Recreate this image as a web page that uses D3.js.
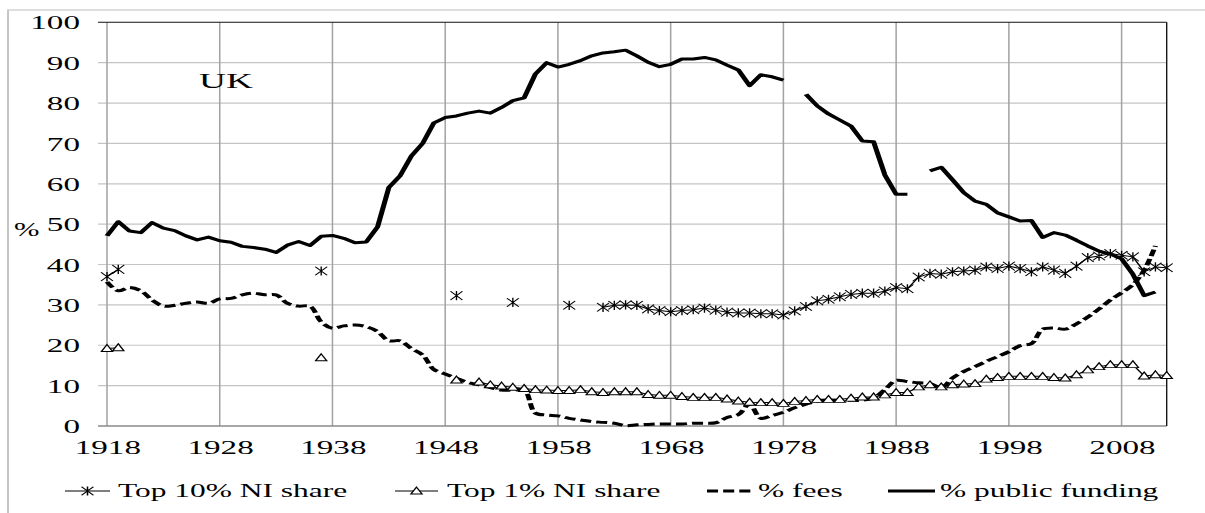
<!DOCTYPE html>
<html>
<head>
<meta charset="utf-8">
<script src="https://cdn.jsdelivr.net/npm/d3@7"></script>
<style>
  html, body { margin: 0; padding: 0; background: #fff; }
  svg { display: block; }
  text { font-family: "Liberation Serif", "Times New Roman", serif; fill: #000; }
</style>
</head>
<body>
<svg id="chart"></svg>
<script>
// years on the category axis
var years = [
  1918,1919,1920,1921,1922,1923,1924,1925,1926,1927,
  1928,1929,1930,1931,1932,1933,1934,1935,1936,1937,
  1938,1939,1940,1941,1942,1943,1944,1945,1946,1947,
  1948,1949,1950,1951,1952,1953,1954,1955,1956,1957,
  1958,1959,1960,1961,1962,1963,1964,1965,1966,1967,
  1968,1969,1970,1971,1972,1973,1974,1975,1976,1977,
  1978,1979,1980,1981,1982,1983,1984,1985,1986,1987,
  1988,1989,1990,1991,1992,1993,1994,1995,1996,1997,
  1998,1999,2000,2001,2002,2003,2004,2005,2006,2007,
  2008,2009,2010,2011,2012
];

var top10 = [
  37.0,38.8,null,null,null,null,null,null,null,null,
  null,null,null,null,null,null,null,null,null,38.4,
  null,null,null,null,null,null,null,null,null,null,
  null,32.3,null,null,null,null,30.6,null,null,null,
  null,29.9,null,null,29.4,29.9,30.0,29.9,29.0,28.6,
  28.3,28.6,28.8,29.2,28.7,28.2,28.0,28.0,27.8,27.8,
  27.5,28.5,29.6,31.0,31.4,32.0,32.6,32.9,32.9,33.4,
  34.3,34.0,36.9,37.8,37.6,38.2,38.4,38.6,39.4,39.0,
  39.6,39.0,38.2,39.4,38.6,37.8,39.6,41.7,42.1,42.7,
  42.3,41.9,38.2,39.4,39.2
];

var top1 = [
  19.2,19.4,null,null,null,null,null,null,null,null,
  null,null,null,null,null,null,null,null,null,16.9,
  null,null,null,null,null,null,null,null,null,null,
  null,11.4,null,10.9,10.2,9.9,9.6,9.3,9.0,8.9,
  8.8,8.8,9.0,8.5,8.3,8.5,8.5,8.5,7.8,7.6,
  7.6,7.3,7.1,7.1,7.1,6.7,6.2,5.9,5.8,5.8,
  5.6,6.1,6.3,6.6,6.6,6.6,6.9,7.2,7.2,7.7,
  8.3,8.3,9.7,10.2,9.7,10.2,10.4,10.5,11.6,12.0,
  12.3,12.3,12.3,12.3,12.0,11.9,12.7,13.9,14.7,15.2,
  15.2,15.2,12.4,12.7,12.5
];

var fees = [
  35.7,33.5,34.3,33.5,31.2,29.7,29.9,30.4,30.7,30.4,
  31.5,31.6,32.5,32.9,32.5,32.5,30.4,29.7,29.7,25.8,
  24.2,24.8,25.0,24.6,23.4,21.1,21.1,19.2,17.6,14.0,
  12.9,11.8,10.8,10.2,9.5,8.9,8.9,8.9,3.2,2.7,
  2.5,1.9,1.5,1.1,0.9,0.7,0.1,0.3,0.4,0.5,
  0.5,0.5,0.7,0.7,0.8,2.1,2.8,5.4,1.9,2.6,
  3.4,4.5,5.4,6.2,6.4,6.3,6.3,6.4,7.0,9.0,
  11.3,11.0,10.7,10.5,9.5,11.9,13.5,14.7,16.0,17.2,
  18.4,19.9,20.4,24.0,24.3,24.0,25.3,27.0,29.0,31.2,
  33.0,35.0,38.6,44.6,null
];

var publicFunding = [
  47.1,50.6,48.3,47.9,50.4,49.0,48.4,47.1,46.1,46.8,
  45.9,45.5,44.5,44.2,43.8,43.0,44.8,45.7,44.7,47.0,
  47.2,46.5,45.4,45.6,49.3,59.1,62.0,66.9,70.0,75.1,
  76.4,76.8,77.5,78.0,77.5,78.9,80.6,81.3,87.2,90.0,
  88.9,89.6,90.5,91.7,92.4,92.7,93.1,91.7,90.1,89.0,
  89.6,90.9,90.9,91.3,90.7,89.4,88.2,84.3,87.0,86.5,
  85.7,null,82.2,79.3,77.3,75.8,74.3,70.6,70.4,62.2,
  57.4,57.4,null,63.2,64.1,61.0,57.8,55.7,54.9,52.8,
  51.8,50.8,50.9,46.7,47.9,47.3,46.0,44.6,43.3,42.6,
  41.4,37.6,32.3,33.2,null
];

var xTickYears = [1918,1928,1938,1948,1958,1968,1978,1988,1998,2008];
var yTicks = [0,10,20,30,40,50,60,70,80,90,100];
var legendLabels = ["Top 10% NI share", "Top 1% NI share", "% fees", "% public funding"];

// the reference picture is stretched sideways, so draw in a narrower
// coordinate system and let the viewBox stretch it back out
var sx = 1.7;
var W = 1205, H = 513;

var svg = d3.select("#chart")
    .attr("width", W)
    .attr("height", H)
    .attr("viewBox", "0 0 " + (W / sx) + " " + H)
    .attr("preserveAspectRatio", "none");

var plotL = 107 / sx, plotR = 1166.7 / sx, plotT = 22.3, plotB = 426;

var x = d3.scaleLinear().domain([years[0], years[years.length - 1]]).range([plotL, plotR]);
var y = d3.scaleLinear().domain([0, 100]).range([plotB, plotT]);

// outer frame
svg.append("rect")
    .attr("x", 8 / sx).attr("y", 10)
    .attr("width", W).attr("height", H)
    .attr("fill", "none")
    .attr("stroke", "#bdbdbd")
    .attr("stroke-width", 1);

// horizontal grid (with the little outside ticks)
svg.append("g")
    .selectAll("line")
    .data(yTicks.filter(function(d) { return d > 0 && d < 100; }))
    .enter().append("line")
    .attr("x1", 98 / sx).attr("x2", plotR)
    .attr("y1", function(d) { return y(d); })
    .attr("y2", function(d) { return y(d); })
    .attr("stroke", "#c4c4c4")
    .attr("stroke-width", 1.2);

// vertical grid
svg.append("g")
    .selectAll("line")
    .data(xTickYears)
    .enter().append("line")
    .attr("x1", function(d) { return x(d); })
    .attr("x2", function(d) { return x(d); })
    .attr("y1", plotT).attr("y2", plotB)
    .attr("stroke", "#a3a3a3")
    .attr("stroke-width", 0.9);

// axis lines / frame
svg.append("line")
    .attr("x1", 98 / sx).attr("x2", plotR)
    .attr("y1", plotB).attr("y2", plotB)
    .attr("stroke", "#8a8a8a").attr("stroke-width", 1.3);
svg.append("line")
    .attr("x1", 98 / sx).attr("x2", plotR)
    .attr("y1", plotT).attr("y2", plotT)
    .attr("stroke", "#111").attr("stroke-width", 1.1);
svg.append("line")
    .attr("x1", plotR).attr("x2", plotR)
    .attr("y1", plotT).attr("y2", plotB)
    .attr("stroke", "#111").attr("stroke-width", 0.8);

// y axis labels
var yAxis = svg.append("g")
    .attr("transform", "translate(" + plotL + ",0)")
    .call(d3.axisLeft(y)
        .tickValues(yTicks)
        .tickSize(0)
        .tickPadding(27 / sx)
        .tickFormat(function(d) { return d; }));
yAxis.select(".domain").remove();
yAxis.selectAll("text")
    .attr("font-size", 19.5)
    .attr("dy", "0.34em")
    .style("font-family", "'Liberation Serif', 'Times New Roman', serif");

// x axis labels
var xAxis = svg.append("g")
    .attr("transform", "translate(0," + plotB + ")")
    .call(d3.axisBottom(x)
        .tickValues(xTickYears)
        .tickSize(0)
        .tickPadding(14.5)
        .tickFormat(function(d) { return d; }));
xAxis.select(".domain").remove();
xAxis.selectAll("text")
    .attr("font-size", 19.5)
    .style("font-family", "'Liberation Serif', 'Times New Roman', serif");

// axis title and country label
svg.append("text")
    .attr("x", 14 / sx).attr("y", 236)
    .attr("font-size", 18)
    .text("%");
svg.append("text")
    .attr("x", 199 / sx).attr("y", 88)
    .attr("font-size", 22)
    .text("UK");

// markers
var starPath = "M-3.5,-4.3L3.5,4.3M-3.5,4.3L3.5,-4.3M0,-4.6L0,4.6";
var triPath = "M0,-3.9L3.3,3L-3.3,3Z";

function pts(values) {
    return years.map(function(yr, i) { return [yr, values[i]]; });
}

var line = d3.line()
    .defined(function(d) { return d[1] != null; })
    .x(function(d) { return x(d[0]); })
    .y(function(d) { return y(d[1]); });

var smooth = d3.line()
    .defined(function(d) { return d[1] != null; })
    .curve(d3.curveCatmullRom.alpha(0.5))
    .x(function(d) { return x(d[0]); })
    .y(function(d) { return y(d[1]); });

var plot = svg.append("g");

// % fees (dashed)
plot.append("path")
    .datum(pts(fees))
    .attr("d", smooth)
    .attr("fill", "none")
    .attr("stroke", "#000")
    .attr("stroke-width", 3)
    .attr("stroke-dasharray", "6.5,3");

// top 1% with triangles
plot.append("path")
    .datum(pts(top1))
    .attr("d", line)
    .attr("fill", "none")
    .attr("stroke", "#000")
    .attr("stroke-width", 1);
plot.append("g")
    .selectAll("path")
    .data(pts(top1).filter(function(d) { return d[1] != null; }))
    .enter().append("path")
    .attr("transform", function(d) { return "translate(" + x(d[0]) + "," + y(d[1]) + ")"; })
    .attr("d", triPath)
    .attr("fill", "#fff")
    .attr("stroke", "#000")
    .attr("stroke-width", 0.9);

// top 10% with stars
plot.append("path")
    .datum(pts(top10))
    .attr("d", line)
    .attr("fill", "none")
    .attr("stroke", "#000")
    .attr("stroke-width", 1);
plot.append("g")
    .selectAll("path")
    .data(pts(top10).filter(function(d) { return d[1] != null; }))
    .enter().append("path")
    .attr("transform", function(d) { return "translate(" + x(d[0]) + "," + y(d[1]) + ")"; })
    .attr("d", starPath)
    .attr("fill", "none")
    .attr("stroke", "#000")
    .attr("stroke-width", 0.8);

// % public funding (solid)
plot.append("path")
    .datum(pts(publicFunding))
    .attr("d", line)
    .attr("fill", "none")
    .attr("stroke", "#000")
    .attr("stroke-width", 3)
    .attr("stroke-linejoin", "round");

// legend
var legendY = 491;
var legendItems = [
    { label: legendLabels[0], x0: 65, x1: 110, tx: 118, marker: starPath, width: 1, dash: null },
    { label: legendLabels[1], x0: 395, x1: 438, tx: 447, marker: triPath, width: 1, dash: null },
    { label: legendLabels[2], x0: 707, x1: 751, tx: 758, marker: null, width: 3, dash: "6.5,3" },
    { label: legendLabels[3], x0: 888, x1: 935, tx: 940, marker: null, width: 3, dash: null }
];

var lg = svg.append("g").attr("class", "legend");
legendItems.forEach(function(it) {
    lg.append("line")
        .attr("x1", it.x0 / sx).attr("x2", it.x1 / sx)
        .attr("y1", legendY).attr("y2", legendY)
        .attr("stroke", "#000")
        .attr("stroke-width", it.width)
        .attr("stroke-dasharray", it.dash);
    if (it.marker) {
        lg.append("path")
            .attr("transform", "translate(" + ((it.x0 + it.x1) / 2 / sx) + "," + legendY + ")")
            .attr("d", it.marker)
            .attr("fill", it.marker === triPath ? "#fff" : "none")
            .attr("stroke", "#000")
            .attr("stroke-width", 0.9);
    }
    lg.append("text")
        .attr("x", it.tx / sx)
        .attr("y", legendY + 6.5)
        .attr("font-size", 18.5)
        .text(it.label);
});
</script>
</body>
</html>
